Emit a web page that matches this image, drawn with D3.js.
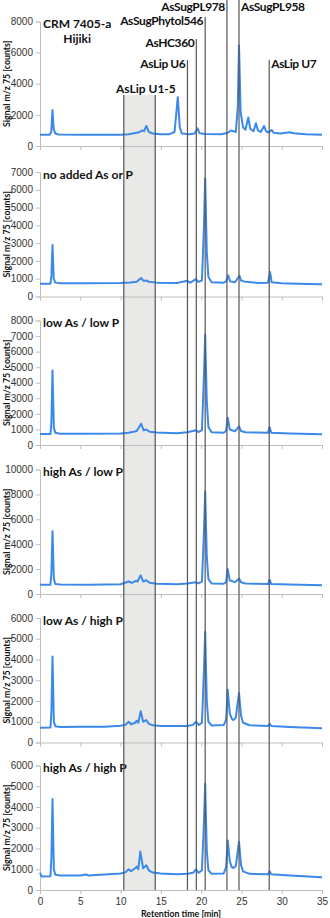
<!DOCTYPE html>
<html>
<head>
<meta charset="utf-8">
<script src="https://cdn.jsdelivr.net/npm/d3@7"></script>
<style>
    body { margin: 0; background: #fff; }
    svg { display: block; font-family: Lato, "Open Sans", sans-serif; }
    .axis path, .axis line { stroke: #bfbfbf; stroke-width: 1; }
    .axis text { fill: #333; font-size: 10px; }
    .trace { fill: none; stroke: #3b89ea; stroke-width: 2; stroke-linejoin: round; }
    .marker { stroke: #555; stroke-width: 1.2; }
    .box { fill: #e9e9e7; }
    .label { font-weight: bold; font-size: 12px; fill: #111; }
    .label.narrow { letter-spacing: -0.4px; }
    .title { font-weight: bold; font-size: 8.8px; fill: #111; }
</style>
</head>
<body>
<svg id="chart" width="330" height="918"></svg>
<script>
// panel captions
var panelNames = [
    ['CRM 7405-a', 'Hijiki'],
    ['no added As or P'],
    ['low As / low P'],
    ['high As / low P'],
    ['low As / high P'],
    ['high As / high P']
];

// y axis range and tick step per panel
var yMax = [8000, 7000, 8000, 10000, 6000, 6000];
var yStep = [2000, 1000, 1000, 2000, 1000, 1000];
var xTicks = [0, 5, 10, 15, 20, 25, 30, 35];

// retention time [min] / signal m/z 75 [counts]
var crmTime = [0, 1.2, 1.4, 1.55, 1.7, 1.9, 2.3, 5, 8, 10, 11, 12.0, 12.3, 12.7, 12.9, 13.2, 13.5, 14, 15, 16, 16.7, 17.1, 17.35, 17.6, 18.5, 19.2, 19.55, 19.8, 20.5, 22.5, 23.3, 23.7, 24.0, 24.3, 24.55, 24.7, 24.9, 25.2, 25.5, 25.85, 26.1, 26.5, 26.8, 27.05, 27.4, 27.8, 28.05, 28.4, 28.75, 29.0, 29.8, 31.0, 31.5, 33, 35];
var crmSignal = [720, 720, 900, 2320, 1100, 800, 740, 720, 720, 730, 760, 850, 880, 1000, 950, 1290, 900, 800, 760, 750, 900, 3140, 1200, 800, 760, 800, 1140, 820, 770, 760, 850, 1000, 950, 900, 2500, 6450, 2200, 1200, 1050, 1830, 1100, 950, 1460, 1000, 900, 1290, 950, 870, 1030, 850, 800, 880, 820, 760, 730];

var noAddTime = [0, 1.3, 1.42, 1.55, 1.7, 1.9, 2.5, 6, 10, 11.2, 12.0, 12.55, 12.85, 13.2, 13.5, 14.5, 17, 18.3, 18.6, 19.35, 19.65, 20.1, 20.35, 20.5, 20.7, 20.9, 21.3, 22.8, 23.1, 23.35, 23.6, 24.2, 24.75, 24.95, 25.3, 27, 28.3, 28.55, 28.75, 30, 32, 35];
var noAddSignal = [715, 720, 1200, 2900, 1000, 780, 750, 745, 760, 790, 830, 1040, 880, 900, 830, 780, 760, 880, 770, 980, 820, 900, 4000, 6650, 2500, 1100, 800, 780, 850, 1190, 850, 800, 1170, 900, 850, 760, 780, 1380, 800, 740, 720, 690];

var lowLowTime = [0, 1.3, 1.42, 1.55, 1.72, 1.9, 2.5, 5, 10, 11, 11.6, 12.0, 12.55, 12.85, 13.2, 13.6, 14.5, 17, 18.3, 19.35, 19.65, 20.1, 20.35, 20.5, 20.7, 20.9, 21.3, 22.8, 23.1, 23.3, 23.55, 24.2, 24.7, 24.95, 25.5, 28.3, 28.5, 28.7, 31, 35];
var lowLowSignal = [700, 700, 1500, 4790, 1100, 780, 730, 720, 740, 790, 850, 900, 1370, 950, 1000, 850, 800, 760, 820, 950, 830, 950, 4500, 7100, 2800, 1150, 820, 790, 900, 1750, 1000, 880, 1200, 900, 820, 780, 1150, 790, 740, 690];

var highLowTime = [0, 1.3, 1.42, 1.55, 1.72, 1.9, 2.5, 6, 10, 11.0, 11.4, 11.9, 12.1, 12.5, 12.8, 13.2, 13.6, 14.5, 17, 18.3, 19.35, 19.65, 20.1, 20.35, 20.5, 20.7, 20.9, 21.3, 22.8, 23.1, 23.3, 23.55, 24.2, 24.7, 24.95, 25.5, 28.3, 28.5, 28.7, 31, 35];
var highLowSignal = [740, 740, 1800, 5050, 1200, 800, 760, 740, 780, 1000, 900, 1050, 1000, 1500, 1000, 1100, 900, 820, 780, 850, 950, 850, 1000, 5000, 8250, 3000, 1200, 850, 820, 950, 2000, 1100, 950, 1250, 950, 850, 800, 1150, 800, 760, 700];

var lowHighTime = [0, 1.3, 1.42, 1.55, 1.72, 1.9, 2.5, 5, 8, 10, 10.6, 11.0, 11.3, 11.8, 12.0, 12.2, 12.5, 12.8, 13.2, 13.5, 14, 15, 17, 18.3, 19.0, 19.35, 19.7, 20.1, 20.35, 20.5, 20.7, 20.9, 21.3, 22.8, 23.1, 23.3, 23.55, 23.8, 24.0, 24.3, 24.7, 24.95, 25.2, 26, 28.3, 28.5, 28.7, 31, 35];
var lowHighSignal = [715, 720, 1500, 4140, 1000, 780, 750, 760, 760, 810, 850, 1000, 880, 950, 1050, 950, 1510, 1000, 1080, 900, 830, 800, 790, 800, 850, 1000, 850, 950, 3500, 5330, 2000, 1000, 820, 840, 1100, 2540, 1400, 1150, 1080, 1200, 2380, 1300, 950, 830, 800, 900, 800, 750, 685];

var highHighTime = [0, 0.2, 1.3, 1.42, 1.55, 1.72, 1.9, 2.5, 5, 5.7, 6, 10, 10.6, 11.0, 11.3, 11.8, 12.0, 12.2, 12.45, 12.8, 13.2, 13.5, 14, 15, 17, 18.3, 19.0, 19.35, 19.7, 20.1, 20.35, 20.5, 20.7, 20.9, 21.3, 22.8, 23.1, 23.3, 23.55, 23.8, 24.0, 24.3, 24.7, 24.95, 25.2, 26, 28.3, 28.5, 28.7, 31, 35];
var highHighSignal = [840, 650, 660, 1600, 4380, 1000, 730, 700, 700, 750, 700, 800, 850, 1000, 900, 1050, 1125, 1000, 1850, 1050, 1190, 950, 840, 800, 760, 780, 830, 1000, 830, 950, 3300, 5120, 1900, 950, 780, 800, 1100, 2380, 1400, 1100, 1060, 1150, 2330, 1200, 900, 780, 760, 900, 760, 700, 610];

var panelTimes = [crmTime, noAddTime, lowLowTime, highLowTime, lowHighTime, highHighTime];
var panelSignals = [crmSignal, noAddSignal, lowLowSignal, highLowSignal, lowHighSignal, highHighSignal];

// marked compounds: shaded window and single retention times
var windowName = 'AsLip U1-5';
var windowTimes = [10.4, 14.3];
var markerNames = ['AsLip U6', 'AsHC360', 'AsSugPhytol546', 'AsSugPL978', 'AsSugPL958', 'AsLip U7'];
var markerTimes = [18.3, 19.4, 20.5, 23.2, 24.7, 28.45];

(function () {
    var options = {
        left: 40,
        right: 322,
        panelBottom: [146, 296.5, 445, 594, 742.5, 890],
        panelHeight: 124.5,
        markerTop: [60, 39, 17, 0, 0, 60],
        markerLabelY: [67.5, 46.5, 25, 10.5, 10.5, 67.5],
        markerAnchor: ['end', 'end', 'end', 'end', 'start', 'start'],
        windowTop: 95
    };

    var svg = d3.select('#chart');
    var bottom = options.panelBottom[options.panelBottom.length - 1];

    var x = d3.scaleLinear()
        .domain([0, 35])
        .range([options.left, options.right]);

    // shaded window behind everything
    svg.append('rect')
        .classed('box', true)
        .attr('x', x(windowTimes[0]))
        .attr('y', options.windowTop)
        .attr('width', x(windowTimes[1]) - x(windowTimes[0]))
        .attr('height', bottom - options.windowTop);

    panelNames.forEach(function (names, i) {
        var y0 = options.panelBottom[i];
        var y = d3.scaleLinear()
            .domain([0, yMax[i]])
            .range([y0, y0 - options.panelHeight]);

        var g = svg.append('g');

        g.append('g')
            .classed('axis', true)
            .attr('transform', 'translate(' + options.left + ',0)')
            .call(d3.axisLeft(y)
                .tickValues(d3.range(0, yMax[i] + 1, yStep[i]))
                .tickFormat(d3.format('d'))
                .tickSizeOuter(0)
                .tickSize(4)
                .tickPadding(3));

        var xAxis = g.append('g')
            .classed('axis', true)
            .attr('transform', 'translate(0,' + y0 + ')')
            .call(d3.axisBottom(x)
                .tickValues(xTicks)
                .tickSizeOuter(0)
                .tickSize(4)
                .tickPadding(4));
        if (i < panelNames.length - 1) {
            xAxis.selectAll('text').remove();
        }

        var points = panelTimes[i].map(function (t, k) { return [t, panelSignals[i][k]]; });

        g.append('path')
            .classed('trace', true)
            .datum(points)
            .attr('d', d3.line()
                .x(function (d) { return x(d[0]); })
                .y(function (d) { return y(d[1]); }));

        var caption = g.append('text')
            .classed('label', true)
            .attr('x', 43)
            .attr('y', y0 - options.panelHeight + 6.5)
            .text(names[0]);

        if (names.length > 1) {
            var box = caption.node().getBBox();
            g.append('text')
                .classed('label', true)
                .attr('text-anchor', 'middle')
                .attr('x', box.x + box.width / 2)
                .attr('y', y0 - options.panelHeight + 21.5)
                .text(names[1]);
        }

        g.append('text')
            .classed('title', true)
            .attr('transform', 'translate(10,' + (y0 - options.panelHeight / 2) + ') rotate(-90)')
            .attr('text-anchor', 'middle')
            .text('Signal m/z 75 [counts]');
    });

    // window edges and label
    windowTimes.forEach(function (t) {
        svg.append('line')
            .classed('marker', true)
            .attr('x1', x(t)).attr('x2', x(t))
            .attr('y1', options.windowTop).attr('y2', bottom);
    });

    svg.append('text')
        .classed('label', true)
        .attr('x', 116)
        .attr('y', 92.5)
        .text(windowName);

    markerTimes.forEach(function (t, k) {
        svg.append('line')
            .classed('marker', true)
            .attr('x1', x(t)).attr('x2', x(t))
            .attr('y1', options.markerTop[k]).attr('y2', bottom);

        svg.append('text')
            .classed('label', true)
            .classed('narrow', true)
            .attr('text-anchor', options.markerAnchor[k])
            .attr('x', options.markerAnchor[k] === 'end' ? x(t) - 2 : x(t) + 2)
            .attr('y', options.markerLabelY[k])
            .text(markerNames[k]);
    });

    svg.append('text')
        .classed('title', true)
        .attr('text-anchor', 'middle')
        .attr('x', (options.left + options.right) / 2)
        .attr('y', 917)
        .text('Retention time [min]');
})();
</script>
</body>
</html>
